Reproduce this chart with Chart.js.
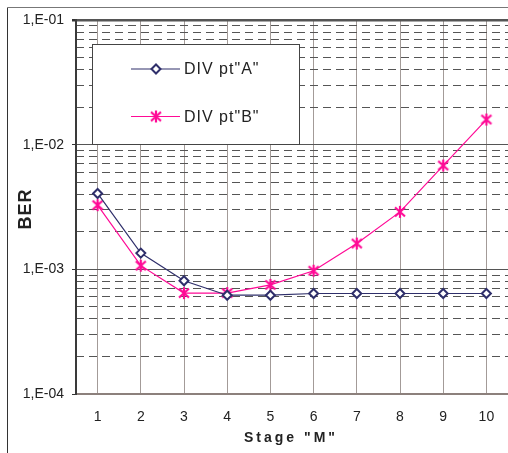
<!DOCTYPE html>
<html>
<head>
<meta charset="utf-8">
<script src="https://cdn.jsdelivr.net/npm/chart.js@4/dist/chart.umd.min.js"></script>
<style>
  html, body { margin: 0; padding: 0; background: #ffffff; }
  #wrap { position: relative; width: 508px; height: 453px; }
</style>
</head>
<body>
<div id="wrap"><canvas id="c" width="508" height="453"></canvas></div>
<script>
// ---- data ----
const categories = ['1', '2', '3', '4', '5', '6', '7', '8', '9', '10'];
const seriesAName = 'DIV pt"A"';
const seriesBName = 'DIV pt"B"';
const seriesA = [4.06e-3, 1.35e-3, 8.1e-4, 6.2e-4, 6.2e-4, 6.4e-4, 6.4e-4, 6.4e-4, 6.4e-4, 6.4e-4];
const seriesB = [3.27e-3, 1.07e-3, 6.45e-4, 6.45e-4, 7.5e-4, 9.75e-4, 1.61e-3, 2.89e-3, 6.8e-3, 1.59e-2];
const yTickValues = [1e-4, 1e-3, 1e-2, 1e-1];
const yTickLabels = ['1,E-04', '1,E-03', '1,E-02', '1,E-01'];
const yMinorMultipliers = [2, 3, 4, 5, 6, 7, 8, 9];
const xTitle = 'Stage "M"';
const yTitle = 'BER';

const FONT = '"Liberation Sans", Arial, sans-serif';
const colA = '#2f2f6b';
const colB = '#ff0a96';

// minor tick positions derived from the decades
const yMinorValues = [];
for (let d = 0; d < yTickValues.length - 1; d++) {
  for (const m of yMinorMultipliers) yMinorValues.push(yTickValues[d] * m);
}

// Excel-like star marker (X with vertical bar)
function makeStar(color) {
  const c = document.createElement('canvas');
  c.width = 14; c.height = 14;
  const g = c.getContext('2d');
  g.strokeStyle = color;
  g.lineWidth = 2.2;
  g.lineCap = 'butt';
  g.beginPath();
  g.moveTo(2, 2.5); g.lineTo(12, 11.5);
  g.moveTo(12, 2.5); g.lineTo(2, 11.5);
  g.moveTo(7, 1); g.lineTo(7, 13);
  g.stroke();
  return c;
}
const starB = makeStar(colB);

const framePlugin = {
  id: 'frameAndTitles',
  afterDraw(chart) {
    const ctx = chart.ctx;
    const ca = chart.chartArea;
    ctx.save();
    // outer frame
    ctx.strokeStyle = '#333';
    ctx.lineWidth = 1;
    ctx.beginPath();
    ctx.moveTo(7.5, 453);
    ctx.lineTo(7.5, 7.5);
    ctx.stroke();
    ctx.strokeStyle = '#777';
    ctx.beginPath();
    ctx.moveTo(7.5, 7.5);
    ctx.lineTo(508, 7.5);
    ctx.stroke();

    // axis titles
    ctx.fillStyle = '#222';
    ctx.textAlign = 'center';
    ctx.textBaseline = 'middle';
    ctx.font = 'bold 14px ' + FONT;
    ctx.letterSpacing = '3px';
    ctx.fillText(xTitle, (ca.left + ca.right) / 2 - 1, 438);
    ctx.save();
    ctx.translate(26, (ca.top + ca.bottom) / 2 + 2);
    ctx.rotate(-Math.PI / 2);
    ctx.font = 'bold 18px ' + FONT;
    ctx.letterSpacing = '1px';
    ctx.fillText(yTitle, 0, 0);
    ctx.restore();
    ctx.letterSpacing = '0px';

    // legend box
    const bx = 92.5, by = 44.5, bw = 207, bh = 100;
    ctx.fillStyle = '#ffffff';
    ctx.fillRect(bx, by, bw, bh);
    ctx.strokeStyle = '#444';
    ctx.lineWidth = 1;
    ctx.strokeRect(bx, by, bw, bh);
    const entries = chart.data.datasets.map((ds, i) => ({ ds, y: i === 0 ? 69 : 116.5 }));
    for (const e of entries) {
      ctx.strokeStyle = e.ds.borderColor;
      ctx.lineWidth = 1.2;
      ctx.beginPath();
      ctx.moveTo(131, e.y);
      ctx.lineTo(180, e.y);
      ctx.stroke();
      ctx.fillStyle = e.ds.pointBackgroundColor;
      ctx.strokeStyle = e.ds.pointBorderColor;
      ctx.lineWidth = e.ds.pointBorderWidth;
      Chart.helpers.drawPoint(ctx, {
        pointStyle: e.ds.pointStyle,
        radius: e.ds.pointRadius,
        borderWidth: e.ds.pointBorderWidth,
        rotation: 0
      }, 156, e.y);
      ctx.fillStyle = '#222';
      ctx.font = '16px ' + FONT;
      ctx.textAlign = 'left';
      ctx.textBaseline = 'middle';
      ctx.letterSpacing = '1px';
      ctx.fillText(e.ds.label, 184, e.y + 1);
      ctx.letterSpacing = '0px';
    }
    ctx.restore();
  }
};

new Chart(document.getElementById('c'), {
  type: 'line',
  data: {
    labels: categories,
    datasets: [
      {
        label: seriesAName,
        data: seriesA,
        borderColor: colA,
        borderWidth: 1.2,
        pointStyle: 'rectRot',
        pointRadius: 4.5,
        pointBorderWidth: 2,
        pointBackgroundColor: '#ffffff',
        pointBorderColor: colA,
        tension: 0
      },
      {
        label: seriesBName,
        data: seriesB,
        borderColor: colB,
        borderWidth: 1.2,
        pointStyle: starB,
        pointRadius: 6,
        pointBorderWidth: 2.2,
        pointBackgroundColor: colB,
        pointBorderColor: colB,
        tension: 0
      }
    ]
  },
  options: {
    responsive: false,
    animation: false,
    devicePixelRatio: 1,
    layout: { autoPadding: false, padding: { top: 20, left: 0, right: 0, bottom: 0 } },
    plugins: { legend: { display: false }, tooltip: { enabled: false } },
    scales: {
      x: {
        type: 'category',
        offset: true,
        grid: {
          display: true,
          offset: false,
          color: '#a39b98',
          lineWidth: 1,
          drawTicks: false
        },
        border: { display: true, color: '#8c807c', width: 2 },
        ticks: {
          color: '#222',
          font: { family: FONT, size: 14 },
          padding: 15,
          maxRotation: 0,
          autoSkip: false
        },
        afterFit(scale) {
          scale.height = 59;
          scale.paddingLeft = 0;
          scale.paddingRight = 0;
        }
      },
      y2: {
        type: 'logarithmic',
        position: 'left',
        min: yTickValues[0],
        max: yTickValues[yTickValues.length - 1],
        afterBuildTicks(scale) {
          scale.ticks = yMinorValues.map(v => ({ value: v }));
        },
        ticks: { display: false },
        grid: {
          color: '#555',
          lineWidth: 1,
          drawTicks: false
        },
        border: { display: false, dash: [8, 5] },
        afterFit(scale) { scale.width = 0; }
      },
      y: {
        type: 'logarithmic',
        position: 'left',
        min: yTickValues[0],
        max: yTickValues[yTickValues.length - 1],
        afterBuildTicks(scale) {
          scale.ticks = yTickValues.map(v => ({ value: v, major: true }));
        },
        ticks: {
          color: '#222',
          font: { family: FONT, size: 14 },
          padding: 8,
          autoSkip: false,
          callback(value) {
            const i = yTickValues.findIndex(v => Math.abs(v - value) / v < 1e-6);
            return i >= 0 ? yTickLabels[i] : '';
          }
        },
        grid: {
          color: '#555',
          lineWidth(ctx) { return ctx.tick && ctx.tick.value === yTickValues[yTickValues.length - 1] ? 2.5 : 1; },
          tickLength: 4,
          tickColor: '#333'
        },
        border: { display: true, color: '#3a3a3a', width: 2 },
        afterFit(scale) { scale.width = 76; }
      }
    }
  },
  plugins: [framePlugin]
});
</script>
</body>
</html>
